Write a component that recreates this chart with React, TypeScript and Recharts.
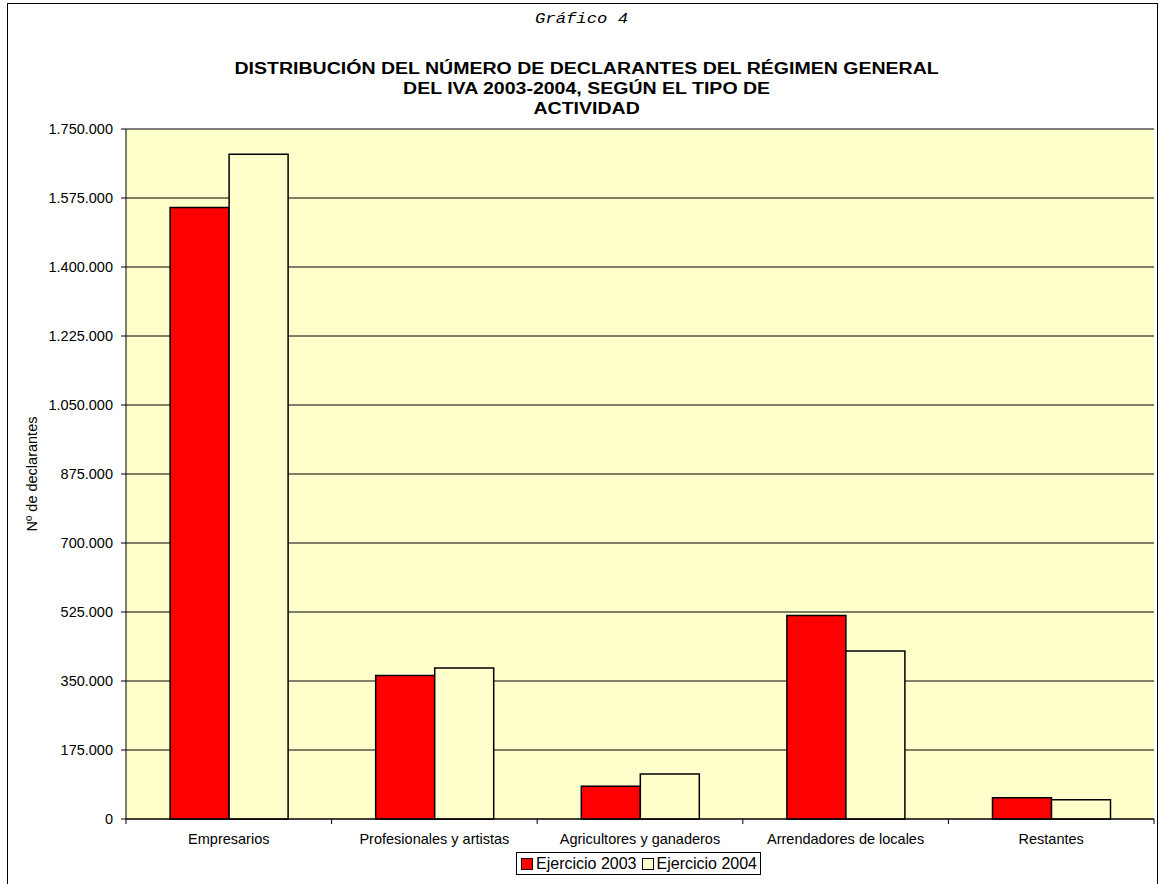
import React from 'react';
import { BarChart, Bar, XAxis, YAxis, CartesianGrid } from 'recharts';

const categories = ['Empresarios', 'Profesionales y artistas', 'Agricultores y ganaderos', 'Arrendadores de locales', 'Restantes'];
const ejercicio2003 = [1551000, 364000, 83000, 516000, 54000];
const ejercicio2004 = [1686000, 383000, 114000, 426000, 49000];
const yTicks = [0, 175000, 350000, 525000, 700000, 875000, 1050000, 1225000, 1400000, 1575000, 1750000];

const data = categories.map((name, i) => ({ name, y2003: ejercicio2003[i], y2004: ejercicio2004[i] }));

const fmt = (v: number) => String(v).replace(/\B(?=(\d{3})+(?!\d))/g, '.');

const FONT = '"Liberation Sans", Arial, sans-serif';

// category label plus tick marks at the category boundaries, like the original
const CatTick = (props: any) => {
  const { x, y, payload, index } = props;
  const half = payload && payload.offset ? payload.offset : 0;
  const axisY = y - 15;
  return (
    <g>
      <line x1={x - half} x2={x - half} y1={axisY} y2={axisY + 5} stroke="#000" />
      {index === categories.length - 1 && (
        <line x1={x + half} x2={x + half} y1={axisY} y2={axisY + 5} stroke="#000" />
      )}
      <text x={x} y={y} dy="0.71em" textAnchor="middle" fill="#000" fontSize={14.5} fontFamily={FONT}>
        {payload.value}
      </text>
    </g>
  );
};

const App: React.FC = () => {
  return (
    <div style={{ position: 'absolute', left: 0, top: 0, width: 1164, height: 884, overflow: 'hidden', background: '#fff', fontFamily: FONT }}>
      <div style={{ position: 'absolute', left: 7, top: 3, width: 1149, height: 950, border: '1px solid #000' }} />

      <div style={{ position: 'absolute', left: 0, top: 9, width: 1164, textAlign: 'center' }}>
        <span style={{ display: 'inline-block', fontFamily: '"Liberation Mono", monospace', fontStyle: 'italic', fontSize: 15, transform: 'scaleX(1.15)' }}>Gráfico 4</span>
      </div>
      <div style={{ position: 'absolute', left: 10, top: 59, width: 1154, textAlign: 'center', fontWeight: 'bold', fontSize: 16, lineHeight: '20px' }}>
        <div style={{ display: 'inline-block', transform: 'scaleX(1.22)' }}>
          DISTRIBUCIÓN DEL NÚMERO DE DECLARANTES DEL RÉGIMEN GENERAL<br />
          DEL IVA 2003-2004, SEGÚN EL TIPO DE<br />
          ACTIVIDAD
        </div>
      </div>

      <div style={{ position: 'absolute', left: 32, top: 474, width: 0, height: 0 }}>
        <div style={{ position: 'absolute', left: 0, top: 0, transform: 'translate(-50%, -50%) rotate(-90deg)', whiteSpace: 'nowrap', fontSize: 14.5 }}>
          Nº de declarantes
        </div>
      </div>

      <div style={{ position: 'absolute', left: 0, top: 0 }}>
        <BarChart width={1164} height={884} data={data} margin={{ top: 129, right: 10, bottom: 35, left: 0 }} barCategoryGap="21.45%" barGap={0} style={{ fontFamily: FONT }}>
          <CartesianGrid vertical={false} stroke="#000" strokeOpacity={1} fill="#FFFFCC" fillOpacity={1} />
          <XAxis dataKey="name" height={30} tickLine={false} tickSize={5} tickMargin={10} axisLine={{ stroke: '#000' }} tick={<CatTick />} interval={0} />
          <YAxis domain={[0, 1750000]} ticks={yTicks} width={126} tickSize={5} tickMargin={8} tickFormatter={fmt} axisLine={{ stroke: '#000' }} tickLine={{ stroke: '#000' }} tick={{ fill: '#000', fontSize: 14.5 }} interval={0} />
          <YAxis yAxisId="r" orientation="right" width={0} domain={[0, 1]} tick={false} tickLine={false} axisLine={{ stroke: '#808080', strokeWidth: 2 }} />
          <Bar dataKey="y2003" name="Ejercicio 2003" fill="#FF0000" stroke="#000" strokeWidth={1.5} isAnimationActive={false} />
          <Bar dataKey="y2004" name="Ejercicio 2004" fill="#FFFFCC" stroke="#000" strokeWidth={1.5} isAnimationActive={false} />
        </BarChart>
      </div>

      <div style={{ position: 'absolute', left: 516, top: 852, width: 243, height: 21, border: '1px solid #000', background: '#fff', display: 'flex', alignItems: 'center', fontSize: 16, color: '#000' }}>
        <span style={{ width: 10, height: 10, background: '#FF0000', border: '1px solid #000', marginLeft: 4, marginRight: 3 }} />
        <span>Ejercicio 2003</span>
        <span style={{ width: 10, height: 10, background: '#FFFFCC', border: '1px solid #000', marginLeft: 5, marginRight: 3 }} />
        <span>Ejercicio 2004</span>
      </div>
    </div>
  );
};

export default App;
